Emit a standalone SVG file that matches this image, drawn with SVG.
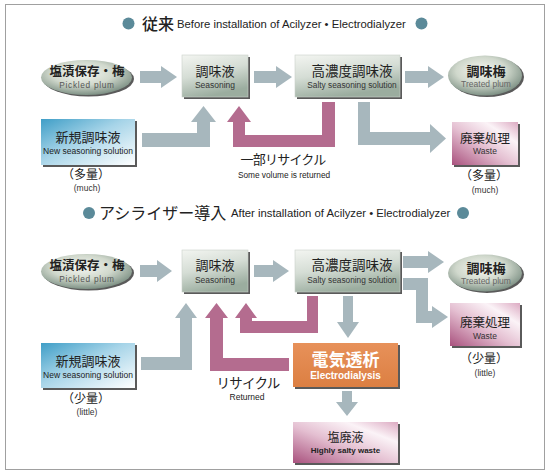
<svg xmlns="http://www.w3.org/2000/svg" width="550" height="475" viewBox="0 0 550 475">
<style>
.jp{font-family:"Noto Sans CJK JP",sans-serif;fill:#222}
.en{font-family:"Liberation Sans",Arial,sans-serif;fill:#333}
.c{text-anchor:middle}
.sh{fill:#5a5a5a}
.ga{fill:#a7b7bd}
.pa{fill:#b46c8f}
.dot{fill:#5b8a99}
.bx{stroke:#c9d1c9;stroke-width:0.6}
</style>
<defs>
<linearGradient id="gGray" x1="0" y1="0" x2="0.35" y2="1">
<stop offset="0" stop-color="#f3f5f1"/><stop offset="0.5" stop-color="#d5ddd5"/><stop offset="1" stop-color="#9bad9f"/>
</linearGradient>
<radialGradient id="gEll" cx="0.45" cy="0.38" r="0.62">
<stop offset="0" stop-color="#f6f7f2"/><stop offset="0.55" stop-color="#d0d8cc"/><stop offset="1" stop-color="#7f9286"/>
</radialGradient>
<linearGradient id="gBlue" x1="0" y1="0" x2="1" y2="1">
<stop offset="0" stop-color="#3f9ec7"/><stop offset="0.45" stop-color="#a6d4e8"/><stop offset="1" stop-color="#ffffff"/>
</linearGradient>
<linearGradient id="gPink" x1="0" y1="1" x2="1" y2="0">
<stop offset="0" stop-color="#a9527e"/><stop offset="0.45" stop-color="#e4bfd1"/><stop offset="0.75" stop-color="#fbf3f7"/><stop offset="1" stop-color="#dcaac2"/>
</linearGradient>
<linearGradient id="gOrange" x1="0" y1="0" x2="0" y2="1">
<stop offset="0" stop-color="#e7915a"/><stop offset="1" stop-color="#dc7f42"/>
</linearGradient>
</defs>
<rect x="5.5" y="4.5" width="539" height="465" fill="#fff" stroke="#a0a0a0"/>

<g id="title1">
<circle class="dot" cx="128.5" cy="23.5" r="6"/>
<text class="jp" x="142" y="29.5" font-size="16" font-weight="500">従来</text>
<text class="en" x="177" y="27.5" font-size="11.3" style="fill:#222">Before installation of Acilyzer • Electrodialyzer</text>
<circle class="dot" cx="421.5" cy="23.5" r="6"/>
</g>
<g id="title2">
<circle class="dot" cx="89" cy="213" r="6"/>
<text class="jp" x="99" y="219" font-size="16">アシライザー導入</text>
<text class="en" x="231" y="217" font-size="11.3" style="fill:#222">After installation of Acilyzer • Electrodialyzer</text>
<circle class="dot" cx="463" cy="213" r="6"/>
</g>

<g id="connectors">
<polygon class="ga" points="140,71 161,71 161,66 177,77 161,88 161,83 140,83"/>
<polygon class="ga" points="254,71 276,71 276,66 292,77 276,88 276,83 254,83"/>
<polygon class="ga" points="405,71 428,71 428,66 444,77 428,88 428,83 405,83"/>
<polygon class="ga" points="142,133 197,133 197,122 191,122 203.5,106 216,122 210,122 210,147 142,147"/>
<polygon class="pa" points="335,102 335,147 233,147 233,122 227,122 239,106 251,122 245,122 245,135 322,135 322,102"/>
<polygon class="ga" points="358,102 370,102 370,132 430,132 430,124 446,138.5 430,153 430,145 358,145"/>

<polygon class="ga" points="140,265 157,265 157,260 172,271 157,282 157,277 140,277"/>
<polygon class="ga" points="254,265 273,265 273,260 289,271 273,282 273,277 254,277"/>
<polygon class="ga" points="403,256 428,256 428,251 444,262 428,273 428,268 403,268"/>
<polygon class="ga" points="403,278 428,278 428,311 432,311 432,306 448,317 432,328 432,323 416,323 416,290 403,290"/>
<polygon class="ga" points="141,357 180,357 180,318 175,318 186,303 197,318 192,318 192,370 141,370"/>
<polygon class="pa" points="289,358 289,371 210,371 210,318 205,318 216.5,303 228,318 223,318 223,358"/>
<polygon class="pa" points="307,296 318,296 318,333 240,333 240,318 235,318 246,303 257,318 252,318 252,321 307,321"/>
<polygon class="ga" points="343,296 353,296 353,322 359,322 348,338 337,322 343,322"/>
<polygon class="ga" points="342,391 352,391 352,402 358,402 347,416 336,402 342,402"/>
</g>

<g id="pickled1">
<ellipse class="sh" cx="88.5" cy="79" rx="45.5" ry="17.5"/>
<ellipse cx="86.5" cy="77.5" rx="45.5" ry="17.5" fill="url(#gEll)"/>
<text class="jp c" x="87" y="76" font-size="12.5" font-weight="bold">塩漬保存・梅</text>
<text class="en c" x="87" y="87.5" font-size="8.3" letter-spacing="0.7" style="fill:#555">Pickled plum</text>
</g>
<g id="seasoning1">
<rect class="sh" x="184" y="57" width="66" height="42"/>
<rect class="bx" x="182" y="55" width="66" height="42" fill="url(#gGray)"/>
<text class="jp c" x="215" y="76" font-size="13">調味液</text>
<text class="en c" x="215" y="88" font-size="8.5">Seasoning</text>
</g>
<g id="salty1">
<rect class="sh" x="297" y="57" width="105" height="42"/>
<rect class="bx" x="295" y="55" width="105" height="42" fill="url(#gGray)"/>
<text class="jp c" x="352" y="76" font-size="13.5">高濃度調味液</text>
<text class="en c" x="352" y="88" font-size="8.3">Salty seasoning solution</text>
</g>
<g id="treated1">
<ellipse class="sh" cx="487" cy="77" rx="37" ry="20"/>
<ellipse cx="485" cy="75.5" rx="37" ry="20" fill="url(#gEll)"/>
<text class="jp c" x="486" y="76" font-size="13" font-weight="bold">調味梅</text>
<text class="en c" x="486" y="87" font-size="8.5" style="fill:#666">Treated plum</text>
</g>
<g id="new1">
<rect class="sh" x="43" y="121" width="94" height="46"/>
<rect x="41" y="119" width="94" height="46" fill="url(#gBlue)"/>
<text class="jp c" x="88" y="142" font-size="13">新規調味液</text>
<text class="en c" x="88" y="153.5" font-size="8.5" style="fill:#222">New seasoning solution</text>
<text class="jp c" x="86" y="178.5" font-size="12">（多量）</text>
<text class="en c" x="87" y="191" font-size="8.5">(much)</text>
</g>
<g id="waste1">
<rect class="sh" x="454" y="124" width="66" height="43"/>
<rect x="452" y="122" width="66" height="43" fill="url(#gPink)"/>
<text class="jp c" x="485" y="142.5" font-size="12.5">廃棄処理</text>
<text class="en c" x="485" y="154" font-size="8.5">Waste</text>
<text class="jp c" x="484" y="180" font-size="12">（多量）</text>
<text class="en c" x="485" y="192.5" font-size="8.5">(much)</text>
</g>
<g id="recycle1">
<text class="jp c" x="283" y="163.5" font-size="13" letter-spacing="-0.8">一部リサイクル</text>
<text class="en c" x="284" y="178" font-size="8.3" style="fill:#222">Some volume is returned</text>
</g>

<g id="pickled2">
<ellipse class="sh" cx="88.5" cy="273" rx="45.5" ry="17.5"/>
<ellipse cx="86.5" cy="271.5" rx="45.5" ry="17.5" fill="url(#gEll)"/>
<text class="jp c" x="87" y="270" font-size="12.5" font-weight="bold">塩漬保存・梅</text>
<text class="en c" x="87" y="281.5" font-size="8.3" letter-spacing="0.7" style="fill:#555">Pickled plum</text>
</g>
<g id="seasoning2">
<rect class="sh" x="184" y="252" width="66" height="42"/>
<rect class="bx" x="182" y="250" width="66" height="42" fill="url(#gGray)"/>
<text class="jp c" x="215" y="269.5" font-size="13">調味液</text>
<text class="en c" x="215" y="282.5" font-size="8.5">Seasoning</text>
</g>
<g id="salty2">
<rect class="sh" x="297" y="252" width="105" height="42"/>
<rect class="bx" x="295" y="250" width="105" height="42" fill="url(#gGray)"/>
<text class="jp c" x="352" y="269.5" font-size="13.5">高濃度調味液</text>
<text class="en c" x="352" y="282.5" font-size="8.3">Salty seasoning solution</text>
</g>
<g id="treated2">
<ellipse class="sh" cx="487" cy="274.5" rx="37" ry="18.5"/>
<ellipse cx="485" cy="273" rx="37" ry="18.5" fill="url(#gEll)"/>
<text class="jp c" x="486" y="272.5" font-size="13" font-weight="bold">調味梅</text>
<text class="en c" x="486" y="283.5" font-size="8.5" style="fill:#666">Treated plum</text>
</g>
<g id="new2">
<rect class="sh" x="43" y="345" width="94" height="45"/>
<rect x="41" y="343" width="94" height="45" fill="url(#gBlue)"/>
<text class="jp c" x="88" y="366" font-size="13">新規調味液</text>
<text class="en c" x="88" y="377.5" font-size="8.5" style="fill:#222">New seasoning solution</text>
<text class="jp c" x="86" y="402.5" font-size="12">（少量）</text>
<text class="en c" x="87" y="415" font-size="8.5">(little)</text>
</g>
<g id="waste2">
<rect class="sh" x="452" y="305" width="70" height="43"/>
<rect x="450" y="303" width="70" height="43" fill="url(#gPink)"/>
<text class="jp c" x="485" y="326.5" font-size="12.5">廃棄処理</text>
<text class="en c" x="485" y="338.5" font-size="8.5">Waste</text>
<text class="jp c" x="484" y="363" font-size="12">（少量）</text>
<text class="en c" x="485" y="376" font-size="8.5">(little)</text>
</g>
<g id="electrodialysis">
<rect class="sh" x="295" y="345" width="105" height="44"/>
<rect x="293" y="343" width="105" height="44" fill="url(#gOrange)"/>
<text class="jp c" x="345.5" y="365.5" font-size="17" font-weight="bold" style="fill:#fff">電気透析</text>
<text class="en c" x="345.5" y="379" font-size="10" font-weight="bold" style="fill:#fff">Electrodialysis</text>
</g>
<g id="saltwaste">
<rect class="sh" x="295" y="424" width="105" height="41"/>
<rect x="293" y="422" width="105" height="41" fill="url(#gPink)"/>
<text class="jp c" x="345.5" y="442" font-size="12">塩廃液</text>
<text class="en c" x="345.5" y="453" font-size="8" font-weight="bold" style="fill:#222">Highly salty waste</text>
</g>
<g id="recycle2">
<text class="jp c" x="248" y="387.5" font-size="13.5" letter-spacing="-0.8">リサイクル</text>
<text class="en c" x="247" y="400" font-size="8.5" style="fill:#222">Returned</text>
</g>
</svg>
